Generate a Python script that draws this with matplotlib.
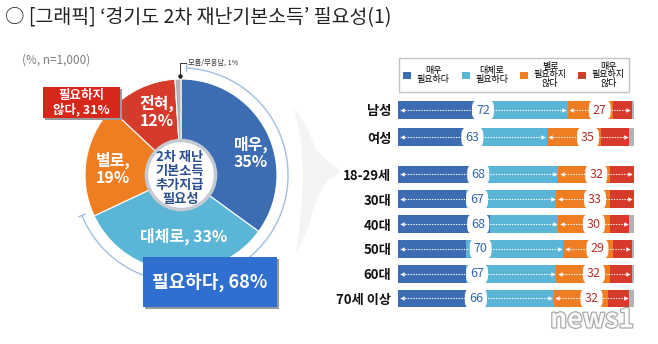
"""
Gyeonggi 2nd disaster basic income - need for additional payment.
Donut (overall) + stacked horizontal bars by sex / age.
"""
import matplotlib
matplotlib.use("Agg")
import matplotlib.pyplot as plt
import matplotlib.patches as mpatches
import matplotlib.patheffects as pe
import numpy as np

plt.rcParams["font.family"] = ["Noto Sans CJK KR", "DejaVu Sans"]

# ---------------------------------------------------------------------------
# Data
# ---------------------------------------------------------------------------
pie_labels = ["매우", "대체로", "별로", "전혀", "모름/무응답"]
pie_values = [35, 33, 19, 12, 1]

groups = ["남성", "여성", "18-29세", "30대", "40대", "50대", "60대", "70세 이상"]
very_need = [40, 29, 30, 29, 39, 29, 29, 29]
some_need = [32, 34, 38, 38, 29, 41, 38, 37]
not_much = [19, 23, 22, 23, 22, 21, 23, 23]
not_at_all = [8, 12, 10, 10, 8, 8, 9, 9]
dont_know = [1, 2, 0, 0, 2, 1, 1, 2]

legend_labels = ["매우\n필요하다", "대체로\n필요하다", "별로\n필요하지\n않다", "매우\n필요하지\n않다"]

C_DARK = "#3c6db3"
C_LIGHT = "#5bb5d7"
C_ORANGE = "#ef7e22"
C_RED = "#d63a2a"
C_GRAY = "#b3b3b3"
COLORS = [C_DARK, C_LIGHT, C_ORANGE, C_RED, C_GRAY]

W, H = 658, 344


def px_rect(x0, y0, x1, y1):
    return [x0 / W, 1 - y1 / H, (x1 - x0) / W, (y1 - y0) / H]


def px_axes(zorder):
    a = fig.add_axes([0, 0, 1, 1], zorder=zorder)
    a.set_xlim(0, W)
    a.set_ylim(H, 0)
    a.axis("off")
    a.patch.set_alpha(0)
    return a


fig = plt.figure(figsize=(W / 100, H / 100), dpi=100)
fig.patch.set_facecolor("white")

bg = px_axes(0)

bg.text(5, 18, "○ [그래픽] ‘경기도 2차 재난기본소득’ 필요성(1)",
        fontsize=14, va="center", ha="left", color="#222222")
bg.text(22, 60, "(%, n=1,000)", fontsize=8.5, color="#808080", va="center")

# soft chevron between the two panels
chev = [(294, 108), (306, 125), (316, 150), (330, 163), (341, 171), (328, 180),
        (318, 195), (308, 228), (296, 254), (300, 225), (303, 180), (301, 140)]
bg.add_patch(mpatches.Polygon(chev, closed=True, fc="#f4f4f4", ec="none"))

# ---------------------------------------------------------------------------
# Donut
# ---------------------------------------------------------------------------
cx, cy, R = 181, 175, 96
dax = fig.add_axes(px_rect(cx - 1.25 * R, cy - 1.25 * R, cx + 1.25 * R, cy + 1.25 * R),
                   zorder=1)
dax.pie(pie_values, colors=COLORS, startangle=90, counterclock=False, radius=1,
        wedgeprops=dict(width=0.65, edgecolor="white", linewidth=0.8))
dax.set_xlim(-1.25, 1.25)
dax.set_ylim(-1.25, 1.25)
dax.set_aspect("equal")
dax.axis("off")
dax.add_patch(mpatches.Circle((0, 0), 0.36, fc="white", ec="#c5cad2", lw=2.5, zorder=5))

# outer bracket arc over the "necessary" share
need_share = (pie_values[0] + pie_values[1]) / sum(pie_values)
a_end = 87
a_start = 90 - need_share * 360 - 3
dax.add_patch(mpatches.Arc((0, 0), 2 * 1.115, 2 * 1.115, theta1=a_start, theta2=a_end,
                           color="#a2bfe0", lw=1.0))
for a in (a_start, a_end):
    t = np.deg2rad(a)
    dax.plot([1.08 * np.cos(t), 1.15 * np.cos(t)], [1.08 * np.sin(t), 1.15 * np.sin(t)],
             color="#a2bfe0", lw=1.0)

# ---------------------------------------------------------------------------
# Stacked bars
# ---------------------------------------------------------------------------
pos = np.array([0, 1.1, 2.6, 3.6, 4.6, 5.6, 6.6, 7.6])
unit = 24.8
top_px = 110 - 0.6 * unit
bot_px = 110 + 8.2 * unit
bax = fig.add_axes(px_rect(398, top_px, 634, bot_px), zorder=1)
bax.set_facecolor("none")

series = [very_need, some_need, not_much, not_at_all, dont_know]
left = np.zeros(len(groups))
containers = []
for vals, col in zip(series, COLORS):
    vals = np.array(vals)
    c = bax.barh(pos, vals, left=left, height=0.72, color=col, edgecolor="none")
    containers.append(c)
    left += vals

need_tot = np.array(very_need) + np.array(some_need)
not_tot = np.array(not_much) + np.array(not_at_all)

for y, n, m in zip(pos, need_tot, not_tot):
    for a, b, col in [(0, n, "#3466ae"), (n, n + m, "#b5322a")]:
        bax.plot([a + 1.5, b - 1.5], [y, y], color="white", lw=0.8, ls=(0, (1.2, 1.2)))
        bax.plot(a + 1.5, y, marker="<", color="white", ms=3.2, mew=0)
        bax.plot(b - 1.5, y, marker=">", color="white", ms=3.2, mew=0)
        bax.text((a + b) / 2, y, f"{b - a}", ha="center", va="center", fontsize=9,
                 color=col, zorder=6,
                 bbox=dict(boxstyle="round,pad=0.32,rounding_size=0.6", fc="white", ec="none"))

bax.set_xlim(0, 100)
bax.set_ylim(8.2, -0.6)
bax.set_yticks(pos, groups)
bax.tick_params(axis="y", length=0, pad=5, labelsize=9.5)
for t in bax.get_yticklabels():
    t.set_fontweight("bold")
    t.set_color("#111111")
bax.set_xticks([])
for s in bax.spines.values():
    s.set_visible(False)

leg = bax.legend([c[0] for c in containers[:4]], legend_labels, ncol=4, loc="center",
                 bbox_to_anchor=(514 / W, 1 - 75 / H), bbox_transform=fig.transFigure,
                 fontsize=6.5, frameon=True, fancybox=False, edgecolor="#b5b5b5",
                 handlelength=0.9, handleheight=0.9, handletextpad=0.6,
                 columnspacing=1.3, borderpad=0.45, labelspacing=0.2)
leg.get_frame().set_linewidth(1.0)
for t in leg.get_texts():
    t.set_multialignment("center")
    t.set_linespacing(0.92)

# ---------------------------------------------------------------------------
# Overlay annotations
# ---------------------------------------------------------------------------
top = px_axes(5)

lab_kw = dict(ha="center", va="center", color="white", fontsize=11.5,
              fontweight="bold", linespacing=1.1)
top.text(251, 153, f"{pie_labels[0]},\n{pie_values[0]}%", **lab_kw)
top.text(184, 236, f"{pie_labels[1]}, {pie_values[1]}%", **lab_kw)
top.text(113, 169, f"{pie_labels[2]},\n{pie_values[2]}%", **lab_kw)
top.text(157, 112, f"{pie_labels[3]},\n{pie_values[3]}%", **lab_kw)
top.text(180, 178, "2차 재난\n기본소득\n추가지급\n필요성", ha="center", va="center",
         fontsize=9.5, fontweight="bold", color="#2d4f8e", linespacing=1.0)

# "don't know" leader
top.plot([179.5, 179.5, 186], [76, 63, 63], color="#333333", lw=0.7)
top.plot(179.5, 76, "o", color="#222222", ms=2.2)
top.text(188, 62.5, f"{pie_labels[4]}, {pie_values[4]}%", fontsize=5.2, va="center",
         color="#333333")

# summary boxes
not_sum = pie_values[2] + pie_values[3]
need_sum = pie_values[0] + pie_values[1]
for (x0, y0, x1, y1, fc) in [(43, 87, 120, 118, "#d8261b"), (143, 257, 277, 307, "#2e6fcf")]:
    top.add_patch(mpatches.Rectangle((x0 + 2, y0 + 2), x1 - x0, y1 - y0, fc="#9a9a9a",
                                     ec="none"))
    top.add_patch(mpatches.Rectangle((x0, y0), x1 - x0, y1 - y0, fc=fc, ec="none"))
top.text(81, 102.5, f"필요하지\n않다, {not_sum}%", ha="center", va="center", color="white",
         fontsize=9, fontweight="bold", linespacing=1.1)
top.text(210, 282, f"필요하다, {need_sum}%", ha="center", va="center", color="white",
         fontsize=13, fontweight="bold")

# watermark
top.text(592, 320, "news1", fontsize=19, fontstyle="italic", fontweight="bold",
         ha="center", va="center", color="white", alpha=0.9,
         path_effects=[pe.withStroke(linewidth=1.6, foreground="#9a9a9a")])

fig.savefig("out.png", dpi=100)
plt.close(fig)
